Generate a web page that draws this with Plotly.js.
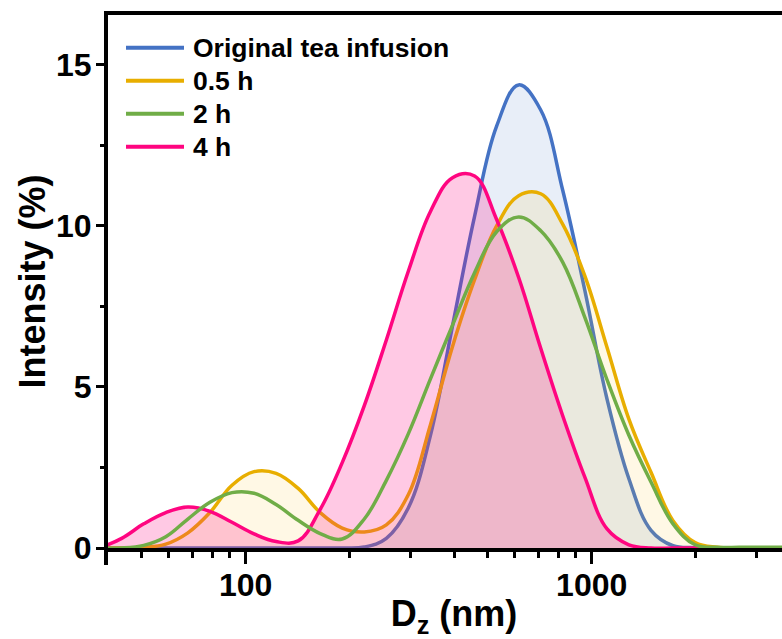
<!DOCTYPE html>
<html>
<head>
<meta charset="utf-8">
<script src="https://cdn.plot.ly/plotly-3.0.1.min.js"></script>
<style>
html,body{margin:0;padding:0;overflow:hidden;background:#fff;}
#chart{width:820px;height:639px;}
</style>
</head>
<body>
<div id="chart"></div>
<script>
// Particle size bins (nm)
const sizes = [37.84, 43.82, 50.75, 58.77, 68.06, 78.82, 91.28, 105.7, 122.4, 141.8, 164.2, 190.1, 220.2, 255.0, 295.3, 342.0, 396.1, 458.7, 531.2, 615.1, 712.4, 825.0, 955.4, 1106, 1281, 1484, 1718, 1990, 2305, 2669, 3091, 3580, 4145];

// Intensity (%) for each sample
const original = [0, 0, 0, 0, 0, 0, 0, 0, 0, 0, 0, 0, 0.03, 0.3, 1.25, 3.5, 6.9, 10.3, 13.1, 14.38, 13.6, 11.1, 8.0, 4.65, 2.15, 0.55, 0.07, 0.01, 0, 0, 0, 0, 0];
const h05 = [0, 0, 0.02, 0.12, 0.47, 1.1, 1.95, 2.37, 2.32, 1.85, 1.1, 0.62, 0.5, 0.72, 1.66, 3.83, 6.26, 8.33, 10.0, 10.94, 11.0, 10.05, 8.45, 6.25, 4.0, 2.35, 0.85, 0.17, 0.02, 0, 0, 0, 0];
const h2 = [0, 0, 0.08, 0.35, 0.9, 1.42, 1.72, 1.7, 1.35, 0.86, 0.45, 0.28, 0.9, 2.1, 3.55, 5.25, 6.92, 8.55, 9.82, 10.28, 9.85, 8.87, 7.16, 5.24, 3.5, 2.05, 0.75, 0.1, 0.02, 0.02, 0.02, 0.02, 0.02];
const h4 = [0, 0.3, 0.75, 1.1, 1.27, 1.14, 0.8, 0.44, 0.2, 0.22, 1.2, 2.65, 4.42, 6.46, 8.6, 10.45, 11.5, 11.55, 10.2, 8.4, 6.2, 4.1, 2.2, 0.6, 0.1, 0, 0, 0, 0, 0, 0, 0, 0];

const seriesNames = ["Original tea infusion", "0.5 h", "2 h", "4 h"];
const xTickVals = [100, 1000];
const xTickText = ["100", "1000"];
const xMinorVals = [50, 60, 70, 80, 90, 200, 300, 400, 500, 600, 700, 800, 900, 2000, 3000, 4000];
const yTickVals = [0, 5, 10, 15];
const yTickText = ["0", "5", "10", "15"];
const yMinorVals = [2.5, 7.5, 12.5];

const colors = {
  "Original tea infusion": "#4472C4",
  "0.5 h": "#E8AE00",
  "2 h": "#70AD47",
  "4 h": "#FF0580"
};
const fills = {
  "Original tea infusion": "rgba(68,114,196,0.12)",
  "0.5 h": "rgba(255,200,40,0.12)",
  "2 h": "rgba(0,0,0,0)",
  "4 h": "rgba(255,0,128,0.21)"
};
const dataMap = {
  "Original tea infusion": original,
  "0.5 h": h05,
  "2 h": h2,
  "4 h": h4
};

// drawing order: original, 0.5 h, 4 h, 2 h (green line on top)
const drawOrder = ["Original tea infusion", "0.5 h", "4 h", "2 h"];
const traces = drawOrder.map(name => ({
  type: "scatter",
  mode: "lines",
  name: name,
  x: sizes,
  y: dataMap[name],
  line: {color: colors[name], width: 3.5, shape: "spline", smoothing: 1.1},
  fill: name === "2 h" ? "none" : "tozeroy",
  fillcolor: fills[name],
  showlegend: false,
  hoverinfo: "x+y+name"
}));

const FONT = "Liberation Sans, Arial, Helvetica, sans-serif";
const W = 820, H = 639;
const M = {l: 108, r: 20, t: 15, b: 91};
const plotW = W - M.l - M.r, plotH = H - M.t - M.b;

// custom legend (long line samples)
const legTop = 47.7, legStep = 33, legX0 = 126, legX1 = 184, legTextX = 191;
const shapes = [];
const annotations = [];
seriesNames.forEach((name, i) => {
  const ypx = legTop + i * legStep;
  const yp = (H - M.b - ypx) / plotH;
  shapes.push({
    type: "line", xref: "paper", yref: "paper",
    x0: (legX0 - M.l) / plotW, x1: (legX1 - M.l) / plotW, y0: yp, y1: yp,
    line: {color: colors[name], width: 4}
  });
  annotations.push({
    xref: "paper", yref: "paper", x: (legTextX - M.l) / plotW, y: yp,
    xanchor: "left", yanchor: "middle", showarrow: false,
    text: name, font: {family: FONT, size: 26.5, color: "#000", weight: "bold"}
  });
});
// left axis line continues below the x axis
shapes.push({
  type: "line", xref: "paper", yref: "paper",
  x0: -2 / plotW, x1: -2 / plotW, y0: 0, y1: -17 / plotH,
  line: {color: "#000", width: 4}
});

const layout = {
  width: W, height: H,
  margin: M,
  paper_bgcolor: "#fff", plot_bgcolor: "#fff",
  font: {family: FONT, color: "#000", weight: "bold"},
  showlegend: false,
  xaxis: {
    type: "log",
    range: [Math.log10(40), Math.log10(4000)],
    tickmode: "array", tickvals: xTickVals, ticktext: xTickText,
    ticks: "outside", ticklen: 12, tickwidth: 3, tickcolor: "#000",
    minor: {tickmode: "array", tickvals: xMinorVals, ticks: "outside", ticklen: 6, tickwidth: 3, tickcolor: "#000", showgrid: false},
    showline: true, linewidth: 4, linecolor: "#000", mirror: true,
    showgrid: false, zeroline: false,
    ticklabelstandoff: -6,
    tickfont: {family: FONT, size: 32, color: "#000", weight: "bold"},
    title: {text: "D<sub>z</sub> (nm)", font: {family: FONT, size: 36, color: "#000", weight: "bold"}, standoff: 4}
  },
  yaxis: {
    range: [0, 16.55],
    tickmode: "array", tickvals: yTickVals, ticktext: yTickText,
    ticks: "outside", ticklen: 8, tickwidth: 3, tickcolor: "#000",
    minor: {tickmode: "array", tickvals: yMinorVals, ticks: "outside", ticklen: 4, tickwidth: 3, tickcolor: "#000", showgrid: false},
    showline: true, linewidth: 4, linecolor: "#000", mirror: true,
    showgrid: false, zeroline: false,
    ticklabelstandoff: -2,
    tickfont: {family: FONT, size: 32, color: "#000", weight: "bold"},
    title: {text: "Intensity (%)", font: {family: FONT, size: 36, color: "#000", weight: "bold"}, standoff: 0}
  },
  shapes: shapes,
  annotations: annotations
};

Plotly.newPlot("chart", traces, layout, {staticPlot: true, displayModeBar: false});
</script>
</body>
</html>
